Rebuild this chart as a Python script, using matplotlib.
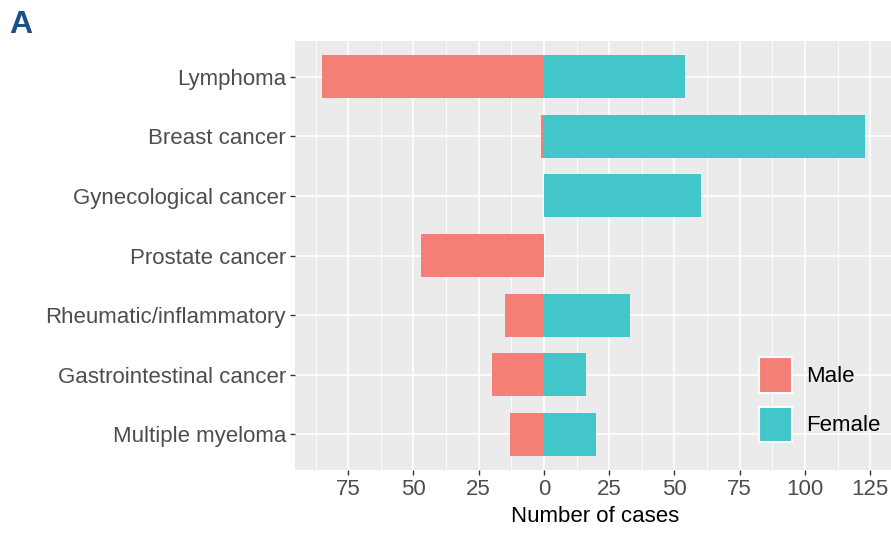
import matplotlib
matplotlib.use('Agg')
import matplotlib.pyplot as plt
from matplotlib.patches import Patch
from matplotlib.ticker import FixedLocator, FuncFormatter

categories = ['Lymphoma', 'Breast cancer', 'Gynecological cancer', 'Prostate cancer',
              'Rheumatic/inflammatory', 'Gastrointestinal cancer', 'Multiple myeloma']
male = [85, 1, 0, 47, 15, 20, 13]
female = [54, 123, 60, 0, 33, 16, 20]
x_ticks = [-75, -50, -25, 0, 25, 50, 75, 100, 125]

male_col = '#F47F77'
female_col = '#42C6CA'

plt.rcParams['font.family'] = ['Liberation Sans', 'DejaVu Sans']

W, H = 891, 537
fig = plt.figure(figsize=(W / 100, H / 100), dpi=100)
ax = fig.add_axes([295 / W, (H - 470) / H, 600 / W, (470 - 41) / H])
ax.set_facecolor('#EBEBEB')

ypos = list(range(len(categories)))
ax.barh(ypos, [-m for m in male], height=0.72, color=male_col, zorder=3)
ax.barh(ypos, female, height=0.72, color=female_col, zorder=3)

ax.set_ylim(len(categories) - 1 + 0.6, -0.6)
ax.set_xlim(-95.4, 134.5)

ax.set_yticks(ypos)
ax.set_yticklabels(categories)
ax.xaxis.set_major_locator(FixedLocator(x_ticks))
ax.xaxis.set_major_formatter(FuncFormatter(lambda v, p: '%d' % abs(v)))
ax.xaxis.set_minor_locator(FixedLocator([t - 12.5 for t in x_ticks] + [137.5]))

ax.grid(which='major', color='white', linewidth=1.2, zorder=0)
ax.grid(which='minor', axis='x', color='white', linewidth=0.6, zorder=0)
ax.set_axisbelow(True)
for s in ax.spines.values():
    s.set_visible(False)

ax.tick_params(which='major', length=3.5, width=1.0, color='#333333',
               labelcolor='#4D4D4D', labelsize=16, pad=3)
ax.tick_params(which='minor', length=0)
ax.set_xlabel('Number of cases', fontsize=16, color='black', labelpad=4)

handles = [Patch(facecolor=male_col, edgecolor='white', linewidth=1.5, label='Male'),
           Patch(facecolor=female_col, edgecolor='white', linewidth=1.5, label='Female')]
leg = ax.legend(handles=handles, loc='upper left', bbox_to_anchor=(759 / W, (H - 357) / H),
                bbox_transform=fig.transFigure, frameon=False, fontsize=16,
                handlelength=1.5, handleheight=2.1, labelspacing=0.62,
                handletextpad=0.6, borderpad=0, borderaxespad=0)

fig.text(21 / W, 1 - 25 / H, 'A', fontsize=23, fontweight='bold', color='#1B4F8A',
         ha='center', va='center')

plt.savefig('out.png', dpi=100)
